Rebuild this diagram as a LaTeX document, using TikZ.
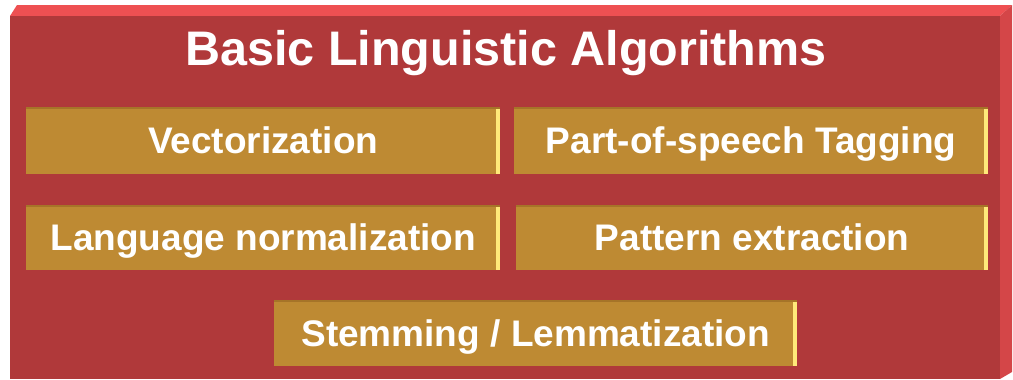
\documentclass[tikz,border=0pt]{standalone}
\usepackage{fontspec}
\setmainfont{Liberation Sans}
\usetikzlibrary{calc}
\definecolor{boardred}{HTML}{B0393A}
\definecolor{boardtop}{HTML}{EE5052}
\definecolor{boardside}{HTML}{D44648}
\definecolor{tilegold}{HTML}{BE8A33}
\definecolor{tileedge}{HTML}{A67428}
\definecolor{tileshine}{HTML}{FFE97A}
\tikzset{
  tile/.style={fill=tilegold, text=white, inner sep=0pt, anchor=north west,
    font=\fontsize{37}{41}\selectfont\bfseries, text height=26.5pt, text depth=0pt,
    path picture={
      \fill[tileedge] (path picture bounding box.north west) rectangle ([yshift=-2pt]path picture bounding box.north east);
      \fill[tileshine] ([xshift=-4pt,yshift=-2pt]path picture bounding box.north east) rectangle (path picture bounding box.south east);
    }},
  heading/.style={text=white, inner sep=0pt,
    font=\fontsize{48.5}{53}\selectfont\bfseries, text height=34.7pt, text depth=0pt}
}
\begin{document}
\begin{tikzpicture}[x=1pt,y=-1pt]
\useasboundingbox (0,0) rectangle (1013,380);
% board
\fill[boardtop] (10,16) -- (17,5) -- (1012,5) -- (1000,16) -- cycle;
\fill[boardside] (1000,16) -- (1012,5) -- (1012,372) -- (1000,379) -- cycle;
\fill[boardred] (10,16) rectangle (1000,379);
\node[heading] (title) at (506,48) {Basic Linguistic Algorithms};
% tiles
\node[tile, minimum width=474, minimum height=67] (vector) at (26,107) {Vectorization};
\node[tile, minimum width=474, minimum height=67] (postag) at (514,107) {Part-of-speech Tagging};
\node[tile, minimum width=474, minimum height=65] (norm) at (26,205) {Language normalization};
\node[tile, minimum width=472, minimum height=65] (pattern) at (516,205) {Pattern extraction};
\node[tile, minimum width=523, minimum height=66] (stem) at (274,300) {Stemming / Lemmatization};
\end{tikzpicture}
\end{document}
